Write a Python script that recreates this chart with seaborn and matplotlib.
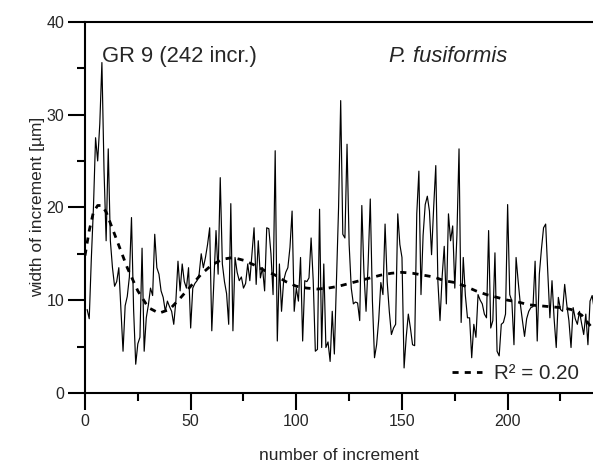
import matplotlib
matplotlib.use("Agg")
import matplotlib.pyplot as plt
import seaborn as sns
import numpy as np
import pandas as pd

# ---- data ----
widths = [
    9.0, 8.0, 14.5, 20.0, 27.5, 25.0, 29.0, 35.6, 24.0, 16.4,
    26.3, 16.4, 13.5, 11.5, 12.0, 13.5, 9.0, 4.5, 9.4, 10.4,
    12.5, 18.9, 9.0, 3.1, 5.3, 6.0, 15.6, 4.5, 8.1, 9.5,
    11.3, 10.5, 17.1, 13.5, 12.8, 11.0, 10.3, 8.8, 9.9, 9.3,
    8.8, 7.4, 9.9, 14.2, 11.0, 13.9, 12.0, 11.3, 13.5, 7.0,
    11.3, 11.8, 12.1, 12.8, 15.0, 13.5, 14.6, 16.0, 17.8, 6.7,
    12.0, 17.5, 12.8, 23.2, 13.9, 12.0, 10.7, 7.4, 20.4, 6.7,
    14.6, 13.0, 12.1, 12.5, 11.3, 11.8, 13.9, 12.1, 15.0, 17.8,
    11.7, 16.4, 12.4, 13.5, 11.0, 17.8, 17.7, 15.0, 10.6, 26.1,
    5.6, 13.9, 8.8, 12.1, 13.0, 13.5, 15.7, 19.6, 8.8, 11.3,
    9.9, 14.6, 5.6, 12.1, 12.0, 12.4, 16.7, 12.1, 4.5, 4.7,
    19.8, 4.9, 13.9, 4.9, 5.5, 3.4, 8.8, 4.2, 12.1, 20.0,
    31.5, 17.1, 16.7, 26.8, 16.0, 11.3, 9.6, 9.8, 9.7, 7.8,
    20.2, 13.0, 8.8, 14.0, 20.9, 10.0, 3.8, 5.2, 7.9, 11.9,
    10.6, 18.2, 12.0, 8.8, 6.3, 7.0, 7.4, 19.3, 16.0, 14.6,
    2.7, 6.0, 8.5, 7.0, 5.2, 5.1, 19.3, 23.9, 10.6, 17.0,
    20.3, 21.2, 19.6, 14.9, 20.0, 24.5, 12.0, 7.8, 12.5, 15.8,
    9.6, 19.3, 16.4, 18.0, 11.3, 17.0, 26.3, 7.6, 14.6, 10.5,
    8.1, 8.1, 3.8, 7.4, 6.0, 10.6, 10.0, 9.6, 8.5, 8.1,
    17.5, 7.0, 7.8, 15.1, 4.5, 4.0, 7.4, 7.6, 8.5, 20.3,
    10.6, 9.9, 5.2, 14.6, 12.0, 9.6, 7.8, 6.1, 8.0, 8.8,
    9.2, 9.3, 14.2, 5.6, 12.8, 15.5, 17.8, 18.2, 13.0, 8.1,
    12.1, 8.0, 4.9, 10.3, 9.0, 8.8, 11.7, 9.5, 7.8, 4.9,
    9.2, 8.0, 7.4, 8.8, 7.5, 6.3, 8.5, 5.2, 9.9, 10.5,
    9.0, 8.5,
]
increments = list(range(1, len(widths) + 1))

trend_x = [0, 2, 4, 6, 8, 10, 12, 15, 20, 25, 30, 35, 40, 45, 50, 55, 60, 65,
           70, 75, 80, 85, 90, 95, 100, 105, 110, 115, 120, 125, 130, 135,
           140, 145, 150, 155, 160, 165, 170, 175, 180, 185, 190, 195, 200,
           205, 210, 215, 220, 225, 230, 235, 240]
trend_y = [14.8, 17.5, 19.5, 20.2, 20.2, 19.5, 18.3, 16.5, 13.5, 11.0, 9.2,
           8.6, 9.0, 10.2, 11.5, 12.8, 13.8, 14.4, 14.6, 14.3, 13.8, 13.2,
           12.7, 12.0, 11.5, 11.3, 11.2, 11.3, 11.5, 11.8, 12.1, 12.4, 12.7,
           12.9, 13.0, 12.9, 12.7, 12.5, 12.1, 11.9, 11.5, 11.0, 10.6, 10.3,
           10.0, 9.8, 9.5, 9.4, 9.3, 9.2, 9.0, 8.4, 7.0]

title_left = "GR 9 (242 incr.)"
title_right = "P. fusiformis"
legend_label = "R\u00b2 = 0.20"
x_label = "number of increment"
y_label = "width of increment [\u00b5m]"
x_ticks = [0, 50, 100, 150, 200]
y_ticks = [0, 10, 20, 30, 40]

# ---- style ----
sns.set_style("ticks")
plt.rcParams['font.family'] = ['Liberation Sans', 'DejaVu Sans']

df = pd.DataFrame({"x": increments, "w": widths})
dft = pd.DataFrame({"x": trend_x, "t": trend_y})

fig = plt.figure(figsize=(5.93, 4.66), dpi=100)
ax = fig.add_axes([85 / 593, (466 - 393) / 466, (593 - 85) / 593, (393 - 21.7) / 466])

sns.lineplot(data=df, x="x", y="w", ax=ax, color="black", linewidth=0.85)
sns.lineplot(data=dft, x="x", y="t", ax=ax, color="black", linewidth=2.0,
             label=legend_label)
ax.lines[-1].set_linestyle((0, (2.2, 2.2)))

ax.set_xlim(0, 240.4)
ax.set_ylim(0, 40)
ax.set_xticks(x_ticks)
ax.set_yticks(y_ticks)
ax.set_xticks(np.arange(25, 241, 50), minor=True)
ax.set_yticks(np.arange(5, 40, 10), minor=True)

for side in ["left", "bottom", "top"]:
    ax.spines[side].set_linewidth(1.5)
    ax.spines[side].set_color("black")
ax.spines["right"].set_visible(False)

ax.tick_params(which="major", direction="out", length=12.5, width=1.5,
               labelsize=11.5, color="black", pad=2.5)
ax.tick_params(which="minor", direction="out", length=6, width=1.5,
               color="black")
ax.tick_params(top=False, right=False, which="both")

ax.set_xlabel(x_label, fontsize=12.5, labelpad=14)
ax.set_ylabel(y_label, fontsize=12.5, labelpad=1)

ax.text(7.9, 35.7, title_left, fontsize=15.8, ha="left", va="baseline")
ax.text(199.7, 35.7, title_right, fontsize=15.8, ha="right", va="baseline",
        style="italic")

leg = ax.legend(loc="center left", bbox_to_anchor=(0.7224, 0.0525),
                frameon=False, fontsize=14.8, handlelength=1.46,
                handletextpad=0.6, borderpad=0, borderaxespad=0)

fig.savefig("out.png", dpi=100)
